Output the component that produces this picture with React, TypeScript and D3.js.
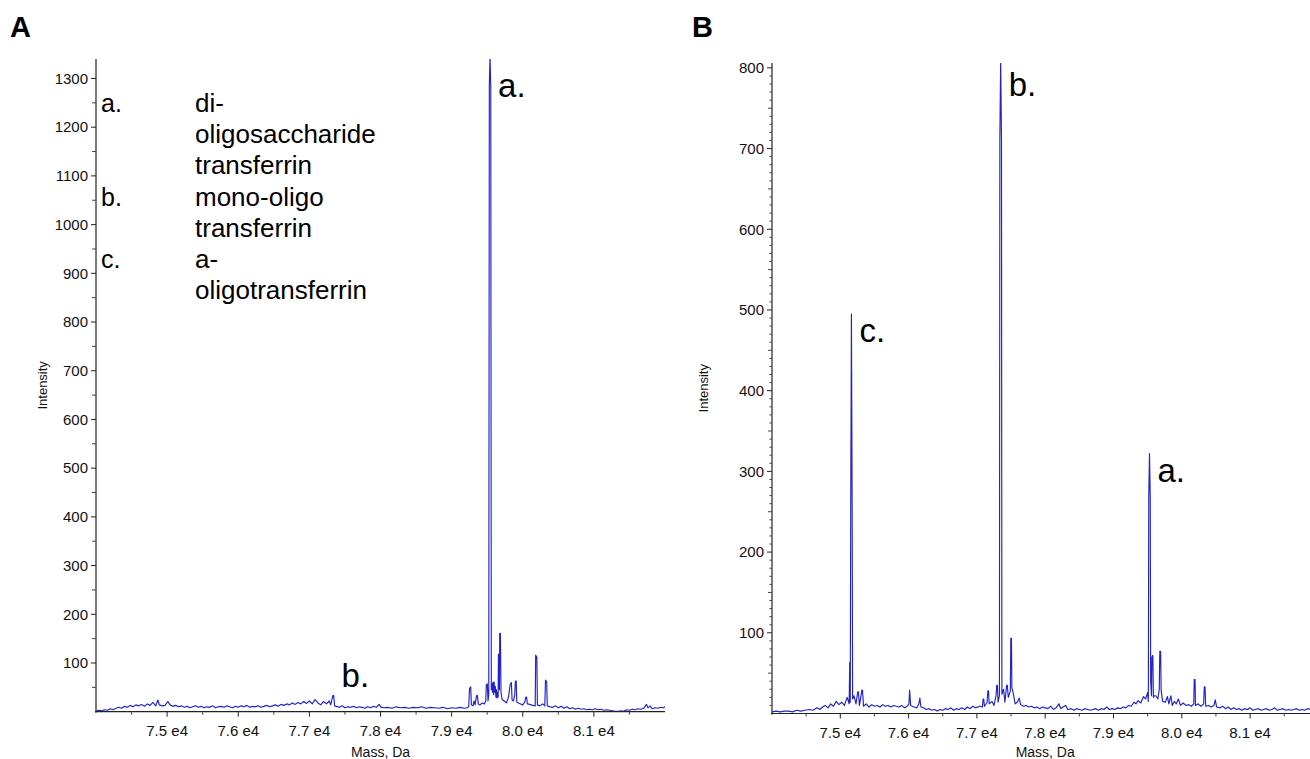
import React from "react";
import * as d3 from "d3";

// mass axis (Da), shared by both spectra
const massDomain: [number, number] = [74000, 82000];
const massTicks = [75000, 76000, 77000, 78000, 79000, 80000, 81000];
const massMinorTicks = [74500, 75500, 76500, 77500, 78500, 79500, 80500, 81500];

const intensityTicksA = [100, 200, 300, 400, 500, 600, 700, 800, 900, 1000, 1100, 1200, 1300];
const intensityTicksB = [100, 200, 300, 400, 500, 600, 700, 800];

const spectrumA: [number, number][] = [
  [74000, 1], [74040, 3], [74080, 2], [74120, 4], [74160, 3], [74200, 6], [74240, 4], [74280, 7],
  [74320, 9], [74360, 7], [74400, 11], [74440, 9], [74480, 13], [74520, 10], [74560, 14], [74600, 12],
  [74640, 15], [74680, 11], [74720, 16], [74760, 13], [74800, 19], [74840, 12], [74870, 24], [74890, 14],
  [74930, 12], [74970, 13], [75010, 21], [75040, 14], [75080, 11], [75120, 13], [75160, 10], [75200, 12],
  [75240, 9], [75280, 11], [75320, 8], [75360, 10], [75400, 12], [75440, 9], [75480, 11], [75520, 8],
  [75560, 10], [75600, 9], [75640, 12], [75680, 8], [75720, 10], [75760, 11], [75800, 9], [75840, 12],
  [75880, 10], [75920, 8], [75960, 11], [76000, 9], [76040, 12], [76080, 10], [76120, 13], [76160, 9],
  [76200, 11], [76240, 10], [76280, 12], [76320, 9], [76360, 11], [76400, 13], [76440, 10], [76480, 12],
  [76520, 14], [76560, 11], [76600, 15], [76640, 13], [76680, 16], [76720, 14], [76760, 18], [76800, 15],
  [76840, 19], [76880, 16], [76920, 21], [76960, 17], [77000, 22], [77040, 16], [77080, 25], [77120, 18],
  [77160, 14], [77200, 21], [77240, 16], [77280, 22], [77300, 14], [77330, 33], [77342, 33], [77355, 12],
  [77380, 11], [77420, 9], [77460, 12], [77500, 8], [77540, 10], [77580, 9], [77620, 11], [77660, 8],
  [77700, 10], [77740, 9], [77780, 7], [77820, 10], [77860, 8], [77900, 11], [77940, 9], [77980, 15],
  [78010, 9], [78050, 8], [78100, 9], [78160, 7], [78220, 10], [78280, 8], [78340, 9], [78400, 7],
  [78460, 9], [78520, 8], [78580, 10], [78640, 7], [78700, 9], [78760, 8], [78820, 7], [78880, 9],
  [78940, 6], [79000, 8], [79060, 7], [79120, 9], [79180, 7], [79220, 8], [79240, 10], [79252, 48],
  [79268, 51], [79278, 14], [79300, 12], [79315, 22], [79330, 14], [79350, 33], [79362, 33], [79375, 16],
  [79400, 14], [79430, 18], [79460, 16], [79480, 22], [79488, 55], [79502, 57], [79512, 22], [79522, 35],
  [79530, 1285], [79540, 1345], [79550, 1285], [79558, 45], [79565, 58], [79575, 40], [79582, 61], [79590, 35],
  [79598, 61], [79606, 40], [79614, 52], [79622, 30], [79630, 45], [79638, 28], [79646, 40], [79654, 30],
  [79658, 118], [79666, 118], [79672, 45], [79676, 161], [79686, 161], [79694, 40], [79710, 25], [79740, 22],
  [79770, 18], [79800, 30], [79822, 55], [79840, 60], [79850, 24], [79870, 22], [79888, 35], [79896, 63],
  [79908, 63], [79916, 20], [79940, 18], [79970, 16], [80000, 14], [80030, 20], [80044, 30], [80054, 30],
  [80065, 16], [80100, 15], [80140, 13], [80175, 12], [80182, 116], [80198, 112], [80206, 14], [80240, 12],
  [80280, 16], [80310, 12], [80320, 65], [80336, 62], [80345, 12], [80380, 10], [80420, 9], [80460, 12],
  [80500, 8], [80540, 11], [80580, 7], [80620, 10], [80660, 6], [80700, 8], [80740, 5], [80780, 7],
  [80820, 5], [80860, 6], [80900, 4], [80940, 5], [80980, 4], [81020, 6], [81060, 4], [81100, 5],
  [81140, 3], [81180, 4], [81220, 3], [81260, 2], [81300, 1], [81340, 1], [81380, 2], [81420, 1],
  [81460, 4], [81500, 3], [81540, 5], [81580, 4], [81620, 6], [81660, 5], [81700, 7], [81740, 15],
  [81760, 8], [81790, 12], [81820, 6], [81860, 8], [81900, 7], [81940, 9], [81980, 8], [82000, 10],
];

const spectrumB: [number, number][] = [
  [74000, 2], [74060, 3], [74120, 2], [74180, 3], [74240, 3], [74300, 2], [74360, 4], [74420, 3],
  [74480, 4], [74540, 5], [74600, 4], [74660, 7], [74700, 5], [74740, 8], [74780, 10], [74820, 7],
  [74860, 12], [74900, 9], [74940, 15], [74980, 11], [75020, 14], [75060, 10], [75100, 20], [75130, 12],
  [75138, 63], [75146, 14], [75152, 240], [75163, 495], [75174, 240], [75180, 18], [75200, 22], [75230, 12],
  [75255, 27], [75265, 27], [75280, 10], [75300, 20], [75315, 29], [75325, 29], [75340, 9], [75380, 12],
  [75420, 8], [75460, 11], [75500, 9], [75540, 10], [75580, 8], [75620, 11], [75660, 9], [75700, 10],
  [75740, 8], [75780, 10], [75820, 9], [75860, 8], [75900, 10], [75940, 7], [75980, 9], [76005, 12],
  [76015, 29], [76030, 10], [76080, 8], [76120, 7], [76150, 12], [76165, 19], [76180, 8], [76220, 7],
  [76260, 5], [76300, 6], [76340, 4], [76380, 5], [76420, 3], [76460, 5], [76500, 4], [76540, 6],
  [76580, 5], [76620, 7], [76660, 4], [76700, 6], [76740, 5], [76780, 7], [76820, 5], [76860, 8],
  [76900, 6], [76940, 9], [76980, 7], [77040, 9], [77080, 8], [77092, 18], [77100, 18], [77110, 9],
  [77150, 14], [77160, 28], [77170, 28], [77180, 12], [77220, 15], [77250, 10], [77280, 22], [77290, 35],
  [77300, 35], [77310, 14], [77330, 22], [77336, 711], [77348, 810], [77360, 711], [77366, 24], [77390, 30],
  [77410, 14], [77435, 35], [77445, 35], [77460, 20], [77490, 28], [77496, 93], [77506, 93], [77512, 32],
  [77530, 26], [77560, 12], [77590, 14], [77620, 19], [77640, 11], [77680, 9], [77720, 10], [77760, 8],
  [77800, 9], [77840, 7], [77880, 8], [77920, 6], [77960, 8], [78000, 7], [78040, 6], [78080, 9],
  [78120, 5], [78160, 7], [78200, 12], [78230, 6], [78260, 8], [78300, 10], [78330, 5], [78380, 6],
  [78420, 4], [78460, 6], [78500, 5], [78540, 4], [78580, 6], [78620, 5], [78660, 4], [78700, 5],
  [78740, 6], [78780, 4], [78820, 6], [78860, 5], [78900, 8], [78940, 5], [78980, 6], [79020, 5],
  [79060, 7], [79100, 6], [79140, 8], [79180, 7], [79220, 10], [79260, 9], [79300, 14], [79330, 12],
  [79360, 16], [79400, 13], [79440, 21], [79470, 18], [79500, 26], [79510, 15], [79516, 268], [79527, 322],
  [79538, 268], [79544, 40], [79556, 22], [79562, 70], [79576, 72], [79584, 20], [79600, 22], [79620, 22],
  [79650, 18], [79670, 30], [79678, 77], [79690, 77], [79698, 28], [79720, 15], [79760, 14], [79790, 21],
  [79810, 12], [79840, 22], [79860, 10], [79890, 15], [79920, 12], [79950, 18], [79980, 10], [80020, 13],
  [80060, 10], [80100, 11], [80140, 9], [80175, 12], [80182, 42], [80194, 42], [80200, 10], [80240, 12],
  [80280, 9], [80320, 12], [80330, 33], [80340, 33], [80350, 9], [80390, 10], [80430, 8], [80470, 10],
  [80490, 17], [80510, 8], [80560, 7], [80600, 9], [80640, 6], [80680, 8], [80720, 5], [80760, 7],
  [80800, 5], [80840, 6], [80880, 4], [80920, 6], [80960, 5], [81000, 7], [81040, 4], [81080, 5],
  [81120, 6], [81160, 4], [81200, 5], [81240, 6], [81280, 4], [81320, 5], [81360, 7], [81400, 4],
  [81440, 5], [81480, 6], [81520, 4], [81560, 5], [81600, 4], [81640, 5], [81680, 6], [81720, 4],
  [81760, 5], [81800, 4], [81840, 6], [81880, 5], [81920, 4], [81960, 5], [82000, 6],
];

// peak annotations: label, mass, intensity level of the text baseline
const peakLabelsA = [
  { text: "a.", mass: 79540, level: 1262 },
  { text: "b.", mass: 77340, level: 50 },
];
const peakLabelsB = [
  { text: "c.", mass: 75163, level: 460 },
  { text: "b.", mass: 77348, level: 765 },
  { text: "a.", mass: 79527, level: 287 },
];

const legendKeys = ["a.", "b.", "c."];
const legendNames = [
  ["di-", "oligosaccharide", "transferrin"],
  ["mono-oligo", "transferrin"],
  ["a-", "oligotransferrin"],
];

const FONT = "'Liberation Sans', Arial, Helvetica, sans-serif";
const LINE = "#2222c8";

type PanelProps = {
  id: string;
  letter: string;
  letterX: number;
  data: [number, number][];
  xRange: [number, number];
  yRange: [number, number];
  yMax: number;
  yTicks: number[];
  minorStep: number;
  peaks: { text: string; mass: number; level: number }[];
  titleX: number;
};

const Panel = ({ id, letter, letterX, data, xRange, yRange, yMax, yTicks, minorStep, peaks, titleX }: PanelProps) => {
  const x = d3.scaleLinear().domain(massDomain).range(xRange);
  const y = d3.scaleLinear().domain([0, yMax]).range(yRange);
  const line = d3
    .line<[number, number]>()
    .x((d) => x(d[0]))
    .y((d) => y(d[1]));

  const x0 = xRange[0];
  const yBase = yRange[0];
  const minor = d3.range(minorStep, yMax, minorStep).filter((v) => !yTicks.includes(v));

  return (
    <g>
      <defs>
        <clipPath id={`clip-${id}`}>
          <rect x={x0} y={yRange[1]} width={xRange[1] - x0} height={yBase - yRange[1]} />
        </clipPath>
      </defs>
      <text x={letterX} y={37} fontSize={29} fontWeight="bold" fill="#000">
        {letter}
      </text>

      <path
        d={line(data) ?? ""}
        fill="none"
        stroke={LINE}
        strokeWidth={1.15}
        strokeLinejoin="round"
        clipPath={`url(#clip-${id})`}
      />

      {/* y axis */}
      <line x1={x0} x2={x0} y1={yRange[1]} y2={yBase + 1} stroke="#222" strokeWidth={1.2} />
      {minor.map((v) => (
        <line
          key={`m${v}`}
          x1={x0 - (v % 50 === 0 ? 4 : 2.5)}
          x2={x0}
          y1={y(v)}
          y2={y(v)}
          stroke="#444"
          strokeWidth={1}
        />
      ))}
      {yTicks.map((v) => (
        <g key={`y${v}`}>
          <line x1={x0 - 5} x2={x0} y1={y(v)} y2={y(v)} stroke="#222" strokeWidth={1} />
          <text x={x0 - 8} y={y(v)} dy="0.35em" textAnchor="end" fontSize={15} fill="#111">
            {v}
          </text>
        </g>
      ))}
      <text
        transform={`translate(${titleX},${(yRange[0] + yRange[1]) / 2}) rotate(-90)`}
        textAnchor="middle"
        fontSize={13}
        fill="#111"
      >
        Intensity
      </text>

      {/* x axis */}
      <line x1={x0 - 1} x2={xRange[1]} y1={yBase} y2={yBase} stroke="#222" strokeWidth={1.2} />
      {massMinorTicks.map((v) => (
        <line key={`xm${v}`} x1={x(v)} x2={x(v)} y1={yBase} y2={yBase + 3} stroke="#444" strokeWidth={1} />
      ))}
      {massTicks.map((v) => (
        <g key={`x${v}`}>
          <line x1={x(v)} x2={x(v)} y1={yBase} y2={yBase + 5} stroke="#222" strokeWidth={1} />
          <text x={x(v)} y={yBase + 24} textAnchor="middle" fontSize={15} fill="#111">
            {`${(v / 1e4).toFixed(1)} e4`}
          </text>
        </g>
      ))}
      <text x={(xRange[0] + xRange[1]) / 2} y={757} textAnchor="middle" fontSize={14} fill="#111">
        Mass, Da
      </text>

      {peaks.map((p) => (
        <text key={p.text} x={x(p.mass) + 8} y={y(p.level)} fontSize={33} fill="#000">
          {p.text}
        </text>
      ))}
    </g>
  );
};

export default function App() {
  return (
    <svg
      width={1310}
      height={759}
      style={{ position: "absolute", left: 0, top: 0, background: "#fff" }}
      fontFamily={FONT}
    >
      <Panel
        id="a"
        letter="A"
        letterX={10}
        data={spectrumA}
        xRange={[96, 665]}
        yRange={[711.7, 59]}
        yMax={1340}
        yTicks={intensityTicksA}
        minorStep={50}
        peaks={peakLabelsA}
        titleX={47}
      />
      <Panel
        id="b"
        letter="B"
        letterX={692}
        data={spectrumB}
        xRange={[772, 1318.4]}
        yRange={[713.5, 63]}
        yMax={806}
        yTicks={intensityTicksB}
        minorStep={10}
        peaks={peakLabelsB}
        titleX={708}
      />
      <g fill="#000">
        {legendKeys.map((k, i) => {
          const row = legendNames.slice(0, i).reduce((s, l) => s + l.length, 0);
          return (
            <g key={k}>
              <text x={101} y={112 + row * 31.2} fontSize={25}>
                {k}
              </text>
              {legendNames[i].map((t, j) => (
                <text key={t + j} x={195} y={112 + (row + j) * 31.2} fontSize={26}>
                  {t}
                </text>
              ))}
            </g>
          );
        })}
      </g>
    </svg>
  );
}
